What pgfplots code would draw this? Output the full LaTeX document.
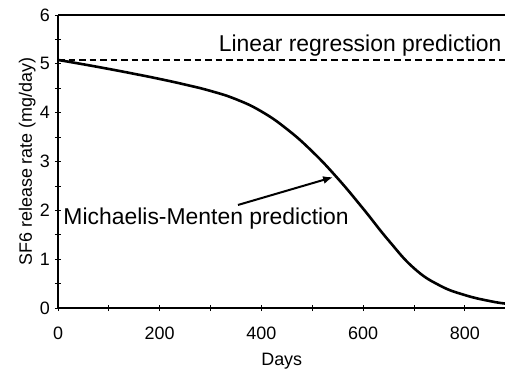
\documentclass[border=0pt]{standalone}
\usepackage{pgfplots}
\pgfplotsset{compat=1.18}
\usetikzlibrary{arrows.meta}
\usepackage{fontspec}
\setmainfont{Liberation Sans}
\begin{document}
\begin{tikzpicture}
\begin{axis}[
  at={(0,0)}, anchor=south west,
  scale only axis,
  width=447.5bp, height=293bp,
  xmin=0, xmax=880, ymin=0, ymax=6,
  axis x line*=box, axis y line*=left,
  xtick pos=left,
  xtick={0,200,400,600,800},
  minor xtick={100,300,500,700},
  ytick={0,1,2,3,4,5,6},
  minor ytick={0.5,1.5,2.5,3.5,4.5,5.5},
  tick align=center,
  major tick length=6bp, minor tick length=6bp,
  every tick/.style={black, line width=0.8bp},
  axis line style={black, line width=1.1bp},
  /pgf/number format/assume math mode=true,
  ticklabel style={font=\fontsize{18}{18}\selectfont},
  xticklabel style={anchor=base, yshift=-28.7bp},
  yticklabel style={inner sep=0pt, xshift=-5bp},
  xlabel={Days},
  ylabel={SF6 release rate (mg/day)},
  every axis x label/.style={at={(axis description cs:0.5,0)}, anchor=base, yshift=-57.5bp, font=\fontsize{18}{18}\selectfont},
  every axis y label/.style={at={(axis description cs:-0.0581,0.5)}, rotate=90, anchor=base, font=\fontsize{18}{18}\selectfont},
  clip=false,
]
\addplot[black, line width=2.6bp, smooth, tension=0.75] table {
x y
0 5.08
50 4.99
100 4.895
150 4.795
200 4.69
250 4.575
300 4.445
350 4.275
400 4.025
450 3.665
500 3.205
550 2.655
600 2.035
650 1.385
700 0.815
750 0.465
800 0.265
850 0.14
880 0.09
};
\addplot[black, line width=2bp, dash pattern=on 6.5bp off 4bp] table {
x y
0 5.08
880 5.08
};
\node[anchor=base east, inner sep=0pt, font=\fontsize{23}{23}\selectfont] at (axis cs:872.6,5.25) {Linear regression prediction};
\node[anchor=base west, inner sep=0pt, font=\fontsize{23}{23}\selectfont] at (axis cs:10.4,1.70) {Michaelis-Menten prediction};
\draw[black, line width=2bp, -{Latex[length=10bp,width=8bp]}] (axis cs:354,2.11) -- (axis cs:541,2.68);
\end{axis}
\pgfresetboundingbox
\useasboundingbox (-58bp,-61bp) rectangle (447bp,308bp);
\end{tikzpicture}
\end{document}
